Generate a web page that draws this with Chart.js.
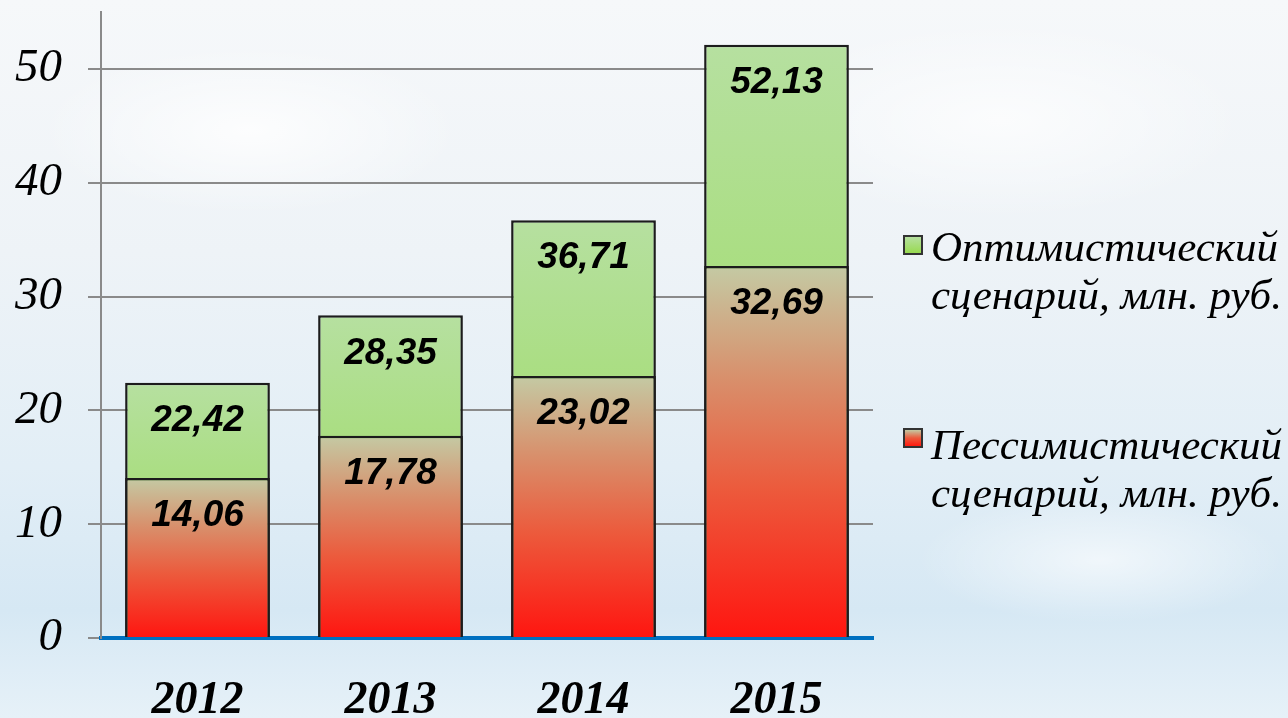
<!DOCTYPE html>
<html>
<head>
<meta charset="utf-8">
<script src="https://cdn.jsdelivr.net/npm/chart.js@4"></script>
<style>
  html, body { margin: 0; padding: 0; }
  body {
    width: 1288px; height: 718px; overflow: hidden; position: relative;
    background:
      radial-gradient(ellipse 300px 120px at 250px 130px, rgba(255,255,255,0.8), rgba(255,255,255,0) 70%),
      radial-gradient(ellipse 350px 140px at 1000px 120px, rgba(255,255,255,0.7), rgba(255,255,255,0) 70%),
      radial-gradient(ellipse 260px 90px at 1100px 560px, rgba(255,255,255,0.6), rgba(255,255,255,0) 70%),
      linear-gradient(180deg, #f6f8fa 0%, #eef3f7 35%, #e2eef6 65%, #d6e8f4 85%, #e6f1f8 100%);
  }
  #wrap { position: absolute; left: 0; top: 0; width: 1288px; height: 718px; }
  .legend { position: absolute; left: 0; top: 0; font: italic 43px "Liberation Serif", serif; color: #000; }
  .box { position: absolute; width: 20px; height: 20px; border: 2px solid #333; box-sizing: border-box; }
  .txt { position: absolute; left: 931px; line-height: 48px; white-space: nowrap; }
</style>
</head>
<body>
<div id="wrap"><canvas id="chart" width="1288" height="718"></canvas></div>
<div class="legend">
  <div class="box" style="left:903px; top:235px; background:linear-gradient(#b6e0a0,#98da50);"></div>
  <div class="txt" style="top:223px;">Оптимистический<br>сценарий, млн. руб.</div>
  <div class="box" style="left:903px; top:428px; background:linear-gradient(#c3c9a2,#ec5a3c,#ff1a10);"></div>
  <div class="txt" style="top:421px;">Пессимистический<br>сценарий, млн. руб.</div>
</div>
<script>
const years = ['2012', '2013', '2014', '2015'];
const optimistic = [22.42, 28.35, 36.71, 52.13];
const pessimistic = [14.06, 17.78, 23.02, 32.69];
const yTicks = [0, 10, 20, 30, 40, 50];

const greenStops = [[0, '#b6e0a0'], [0.5, '#a6dd78'], [1, '#98da50']];
const redStops = [[0, '#c4caa4'], [0.3, '#d8906c'], [0.6, '#ec5a3c'], [1, '#ff1510']];

function barFill(stops) {
    return (ctx) => {
        const y = ctx.chart.scales.y;
        const fallback = stops[stops.length - 1][1];
        if (!y || ctx.type !== 'data') return fallback;
        const top = y.getPixelForValue(ctx.raw);
        const base = y.getPixelForValue(0);
        if (!isFinite(top) || !isFinite(base) || top === base) return fallback;
        const g = ctx.chart.ctx.createLinearGradient(0, top, 0, base);
        stops.forEach(([o, c]) => g.addColorStop(o, c));
        return g;
    };
}

const fmt = v => v.toFixed(2).replace('.', ',');

// value labels inside the bars
const barLabels = {
    id: 'barLabels',
    afterDatasetsDraw(chart) {
        const ctx = chart.ctx;
        ctx.save();
        ctx.font = 'italic bold 37px "Liberation Sans", Arial, sans-serif';
        ctx.fillStyle = '#000';
        ctx.textAlign = 'center';
        ctx.textBaseline = 'middle';
        chart.data.datasets.forEach((ds, i) => {
            chart.getDatasetMeta(i).data.forEach((bar, j) => {
                ctx.fillText(fmt(ds.data[j]), bar.x, bar.y + 38);
            });
        });
        ctx.restore();
    }
};

new Chart(document.getElementById('chart'), {
    type: 'bar',
    data: {
        labels: years,
        datasets: [{
            label: 'Оптимистический сценарий, млн. руб.',
            data: optimistic,
            backgroundColor: barFill(greenStops),
            order: 1
        }, {
            label: 'Пессимистический сценарий, млн. руб.',
            data: pessimistic,
            backgroundColor: barFill(redStops),
            order: 0
        }]
    },
    options: {
        responsive: false,
        animation: false,
        layout: { padding: { left: 0, right: 415, top: 12, bottom: 0 } },
        datasets: {
            bar: {
                grouped: false,
                borderColor: '#1c1c1c',
                borderWidth: 2.5,
                barPercentage: 0.75,
                categoryPercentage: 1
            }
        },
        plugins: {
            legend: { display: false },
            tooltip: { enabled: false }
        },
        scales: {
            x: {
                afterFit(scale) { scale.height = 80; scale.paddingLeft = 0; scale.paddingRight = 0; },
                grid: { display: false, drawTicks: false },
                border: { color: '#0070c0', width: 4 },
                ticks: {
                    color: '#000',
                    padding: 36,
                    font: { family: '"Liberation Serif", serif', size: 46, style: 'italic', weight: 'bold' }
                }
            },
            y: {
                min: 0,
                max: 55,
                afterFit(scale) { scale.width = 101; scale.paddingTop = 0; scale.paddingBottom = 0; },
                afterBuildTicks(scale) {
                    scale.ticks = yTicks.map(v => ({ value: v }));
                },
                grid: { color: '#8a8a8a', lineWidth: 2, tickLength: 13 },
                border: { color: '#8a8a8a', width: 2 },
                ticks: {
                    color: '#000',
                    padding: 26,
                    font: { family: '"Liberation Serif", serif', size: 47, style: 'italic' }
                }
            }
        }
    },
    plugins: [barLabels]
});
</script>
</body>
</html>
